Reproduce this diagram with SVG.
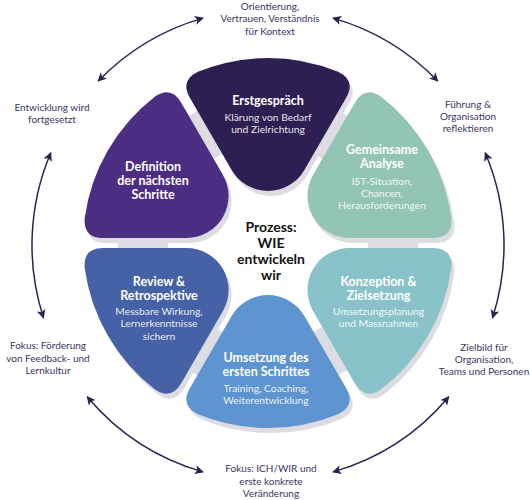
<svg xmlns="http://www.w3.org/2000/svg" xmlns:xlink="http://www.w3.org/1999/xlink" width="530" height="500" viewBox="0 0 530 500">
<style>
  .sh { fill: #dcdce2; }
  .tt { font-family: Lato, "Open Sans", "Liberation Sans", sans-serif; font-weight: 700; font-size: 12.5px; fill: #ffffff; text-anchor: middle; }
  .st { font-family: Lato, "Open Sans", "Liberation Sans", sans-serif; font-weight: 400; font-size: 10.3px; fill: #ffffff; fill-opacity: 0.9; text-anchor: middle; }
  .ct { font-family: Lato, "Open Sans", "Liberation Sans", sans-serif; font-weight: 700; font-size: 14px; fill: #111111; text-anchor: middle; }
  .ot { font-family: Lato, "Open Sans", "Liberation Sans", sans-serif; font-weight: 400; font-size: 10px; fill: #3d3362; text-anchor: middle; }
  .ar { fill: none; stroke: #2b2150; stroke-width: 1.5; marker-start: url(#ah); marker-end: url(#ah); }
</style>
<defs>
  <path id="w" d="M36.37,-73 L78.14,-145.33 Q88.14,-162.65 70.08,-171.21 A185,185 0 0 0 -70.08,-171.21 Q-88.14,-162.65 -78.14,-145.33 L-36.37,-73 A42,42 0 0 0 36.37,-73 Z"/>
  <marker id="ah" viewBox="0 0 10 10" refX="9" refY="5" markerWidth="9" markerHeight="9" markerUnits="userSpaceOnUse" orient="auto-start-reverse">
    <path d="M0,0 L10,5 L0,10 L2.5,5 z" fill="#2b2150"/>
  </marker>
</defs>
<rect width="530" height="500" fill="#ffffff"/>

<g id="backdrop">
  <circle cx="268" cy="243" r="125" fill="none" stroke="#dcdce2" stroke-width="50"/>
  <use xlink:href="#w" class="sh" transform="translate(271,248) rotate(0)"/>
  <use xlink:href="#w" class="sh" transform="translate(271,248) rotate(60)"/>
  <use xlink:href="#w" class="sh" transform="translate(271,248) rotate(120)"/>
  <use xlink:href="#w" class="sh" transform="translate(271,248) rotate(180)"/>
  <use xlink:href="#w" class="sh" transform="translate(271,248) rotate(240)"/>
  <use xlink:href="#w" class="sh" transform="translate(271,248) rotate(300)"/>
</g>

<g id="erstgespraech">
  <use xlink:href="#w" fill="#2e1f52" transform="translate(268,243) rotate(0)"/>
  <text class="tt" x="268" y="105">Erstgespräch</text>
  <text class="st" x="268" y="120.5">Klärung von Bedarf</text>
  <text class="st" x="268" y="133">und Zielrichtung</text>
</g>

<g id="gemeinsame-analyse">
  <use xlink:href="#w" fill="#93c5b4" transform="translate(268,243) rotate(60)"/>
  <text class="tt" x="382" y="154">Gemeinsame</text>
  <text class="tt" x="382" y="167.5">Analyse</text>
  <text class="st" x="382" y="184.5">IST-Situation,</text>
  <text class="st" x="382" y="196.5">Chancen,</text>
  <text class="st" x="382" y="209">Herausforderungen</text>
</g>

<g id="konzeption">
  <use xlink:href="#w" fill="#89c3c9" transform="translate(268,243) rotate(120)"/>
  <text class="tt" x="378.5" y="285.5">Konzeption &amp;</text>
  <text class="tt" x="378.5" y="299.5">Zielsetzung</text>
  <text class="st" x="378.5" y="314.5">Umsetzungsplanung</text>
  <text class="st" x="378.5" y="327">und Massnahmen</text>
</g>

<g id="umsetzung">
  <use xlink:href="#w" fill="#5e95d0" transform="translate(268,243) rotate(180)"/>
  <text class="tt" x="266" y="361.5">Umsetzung des</text>
  <text class="tt" x="266" y="375.5">ersten Schrittes</text>
  <text class="st" x="266" y="392">Training, Coaching,</text>
  <text class="st" x="266" y="404">Weiterentwicklung</text>
</g>

<g id="review">
  <use xlink:href="#w" fill="#4761a6" transform="translate(268,243) rotate(240)"/>
  <text class="tt" x="159" y="285.5">Review &amp;</text>
  <text class="tt" x="159" y="299.5">Retrospektive</text>
  <text class="st" x="159" y="314.5">Messbare Wirkung,</text>
  <text class="st" x="159" y="327">Lernerkenntnisse</text>
  <text class="st" x="159" y="340">sichern</text>
</g>

<g id="definition">
  <use xlink:href="#w" fill="#4b2d82" transform="translate(268,243) rotate(300)"/>
  <text class="tt" x="153" y="170.5">Definition</text>
  <text class="tt" x="153" y="184.5">der nächsten</text>
  <text class="tt" x="153" y="198.5">Schritte</text>
</g>

<g id="center">
  <text class="ct" x="271" y="231.5">Prozess:</text>
  <text class="ct" x="271" y="247.5">WIE</text>
  <text class="ct" x="271" y="263.5">entwickeln</text>
  <text class="ct" x="271" y="279.5">wir</text>
</g>

<g id="connectors">
  <path class="ar" d="M203.0,18.1 A236,236 0 0 0 98.2,81.1"/>
  <path class="ar" d="M333.0,18.1 A236,236 0 0 1 437.8,81.1"/>
  <path class="ar" d="M485.2,152.8 A236,236 0 0 1 492.5,317.9"/>
  <path class="ar" d="M448.8,396.7 A236,236 0 0 1 333.0,471.9"/>
  <path class="ar" d="M203.0,471.9 A236,236 0 0 1 87.2,396.7"/>
  <path class="ar" d="M43.5,317.9 A236,236 0 0 1 50.8,152.8"/>
</g>

<g id="labels">
  <text class="ot" x="270" y="9.5">Orientierung,</text>
  <text class="ot" x="270" y="22">Vertrauen, Verständnis</text>
  <text class="ot" x="270" y="34.5">für Kontext</text>

  <text class="ot" x="468" y="107.5">Führung &amp;</text>
  <text class="ot" x="468" y="119.5">Organisation</text>
  <text class="ot" x="468" y="131.5">reflektieren</text>

  <text class="ot" x="484" y="350.5">Zielbild für</text>
  <text class="ot" x="484" y="362.5">Organisation,</text>
  <text class="ot" x="484" y="374.5">Teams und Personen</text>

  <text class="ot" x="271" y="471.5">Fokus: ICH/WIR und</text>
  <text class="ot" x="271" y="484.5">erste konkrete</text>
  <text class="ot" x="271" y="497">Veränderung</text>

  <text class="ot" x="48" y="349">Fokus: Förderung</text>
  <text class="ot" x="48" y="361.5">von Feedback- und</text>
  <text class="ot" x="48" y="374">Lernkultur</text>

  <text class="ot" x="52" y="110.5">Entwicklung wird</text>
  <text class="ot" x="52" y="122.5">fortgesetzt</text>
</g>
</svg>
